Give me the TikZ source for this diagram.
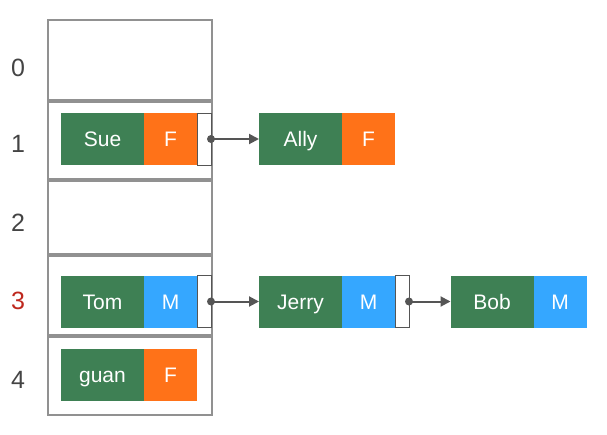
\documentclass[tikz,border=0pt]{standalone}
\usepackage{fontspec}
\setmainfont{Liberation Sans}
\usetikzlibrary{positioning,arrows.meta}
\definecolor{namegreen}{RGB}{62,128,84}
\definecolor{femorange}{RGB}{255,114,24}
\definecolor{maleblue}{RGB}{53,167,255}
\definecolor{framegray}{RGB}{145,145,145}
\definecolor{linkgray}{RGB}{85,85,85}
\definecolor{idxgray}{RGB}{68,68,68}
\definecolor{idxred}{RGB}{190,40,30}
\begin{document}
\begin{tikzpicture}
[x=1pt,y=-1pt,
  namebox/.style={fill=namegreen,text=white,minimum width=83pt,minimum height=52pt,
    inner sep=0pt,outer sep=0pt,text height=15pt,text depth=0pt,
    font=\fontsize{21}{21}\selectfont},
  sexbox/.style={text=white,minimum width=53pt,minimum height=52pt,
    inner sep=0pt,outer sep=0pt,text height=15pt,text depth=0pt,
    font=\fontsize{21}{21}\selectfont},
  ptrbox/.style={draw=linkgray,line width=1pt,fill=white,minimum width=14pt,
    minimum height=52pt,inner sep=0pt,outer sep=0pt},
  rowbox/.style={draw=framegray,line width=1.8pt},
  idxlabel/.style={text=idxgray,font=\fontsize{25}{25}\selectfont},
  linkdot/.style={circle,fill=linkgray,inner sep=0pt,minimum size=8pt},
  linkline/.style={-{Triangle[length=10pt,width=10pt]},line width=2pt,draw=linkgray}]
\useasboundingbox (0,0) rectangle (607,434);
%% hash table rows
\foreach \r/\top/\bot in {0/20/100, 1/102/179, 2/181/254, 3/256/335, 4/337/415}
  \draw[rowbox] (48,\top) rectangle (212,\bot);
%% row indices
\foreach \i/\y in {0/68, 1/144, 2/223, 4/380}
  \node[idxlabel] (idx\i) at (18,\y) {\i};
\node[idxlabel,text=idxred] (idx3) at (18,301) {3};
%% entries
\foreach \id/\name/\sex/\col/\x/\y in {sue/Sue/F/femorange/102.5/139,
  ally/Ally/F/femorange/300.5/139, tom/Tom/M/maleblue/102.5/301.5,
  jerry/Jerry/M/maleblue/300.5/301.5, bob/Bob/M/maleblue/492/301.5,
  guan/guan/F/femorange/102.5/374.5} {
  \node[namebox] (\id) at (\x,\y) {\name};
  \node[sexbox,fill=\col,right=0pt of \id] (\id-sex) {\sex};
}
%% next pointers
\foreach \id in {sue, tom, jerry} {
  \node[ptrbox,right=0pt of \id-sex] (\id-ptr) {};
  \node[linkdot] (\id-dot) at (\id-ptr.east) {};
}
\foreach \from/\to in {sue/ally, tom/jerry, jerry/bob}
  \draw[linkline] (\from-dot.center) -- (\to);
\end{tikzpicture}
\end{document}
